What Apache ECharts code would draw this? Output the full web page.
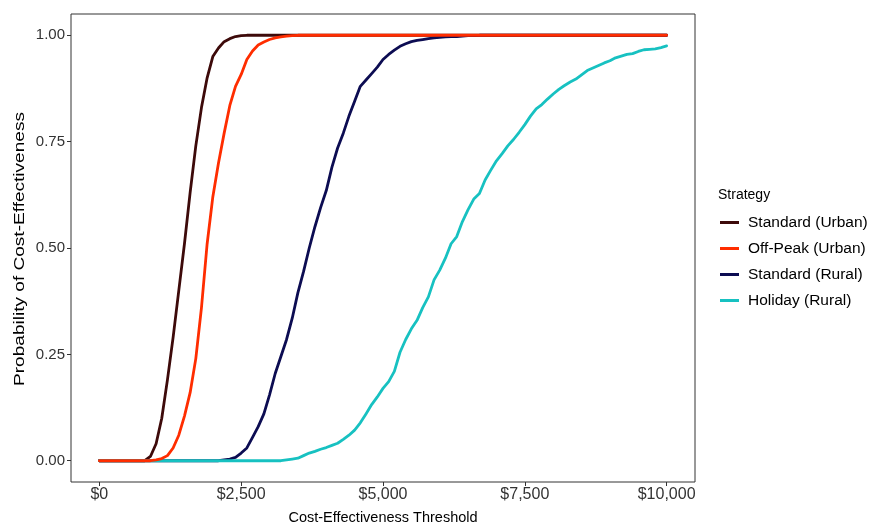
<!DOCTYPE html>
<html>
<head>
<meta charset="utf-8">
<script src="https://cdn.jsdelivr.net/npm/echarts@6/dist/echarts.min.js"></script>
<style>
  html, body { margin: 0; padding: 0; background: #fff; }
  #chart { width: 870px; height: 525px; }
</style>
</head>
<body>
<div id="chart"></div>
<script>
// Willingness-to-pay thresholds (USD), evaluated every $100 from $0 to $10,000
const thresholds = Array.from({ length: 101 }, (_, i) => i * 100);

// Probability that each strategy is cost-effective at each threshold
const standardUrban = [
  0, 0, 0, 0, 0, 0, 0, 0, 0, 0.01,
  0.04, 0.10, 0.19, 0.29, 0.40, 0.51, 0.63, 0.74, 0.83, 0.90,
  0.95, 0.97, 0.985, 0.992, 0.997, 0.999, 1, 1, 1, 1,
  1, 1, 1, 1, 1, 1, 1, 1, 1, 1,
  1, 1, 1, 1, 1, 1, 1, 1, 1, 1,
  1, 1, 1, 1, 1, 1, 1, 1, 1, 1,
  1, 1, 1, 1, 1, 1, 1, 1, 1, 1,
  1, 1, 1, 1, 1, 1, 1, 1, 1, 1,
  1, 1, 1, 1, 1, 1, 1, 1, 1, 1,
  1, 1, 1, 1, 1, 1, 1, 1, 1, 1,
  1
];
const offPeakUrban = [
  0, 0, 0, 0, 0, 0, 0, 0, 0, 0,
  0.002, 0.005, 0.012, 0.03, 0.06, 0.105, 0.16, 0.24, 0.36, 0.51,
  0.62, 0.70, 0.77, 0.835, 0.88, 0.908, 0.943, 0.963, 0.977, 0.984,
  0.99, 0.994, 0.996, 0.998, 0.999, 1, 1, 1, 1, 1,
  1, 1, 1, 1, 1, 1, 1, 1, 1, 1,
  1, 1, 1, 1, 1, 1, 1, 1, 1, 1,
  1, 1, 1, 1, 1, 1, 1, 1, 1, 1,
  1, 1, 1, 1, 1, 1, 1, 1, 1, 1,
  1, 1, 1, 1, 1, 1, 1, 1, 1, 1,
  1, 1, 1, 1, 1, 1, 1, 1, 1, 1,
  1
];
const standardRural = [
  0, 0, 0, 0, 0, 0, 0, 0, 0, 0,
  0, 0, 0, 0, 0, 0, 0, 0, 0, 0,
  0, 0, 0.002, 0.004, 0.008, 0.018, 0.03, 0.055, 0.08, 0.11,
  0.155, 0.205, 0.245, 0.285, 0.335, 0.395, 0.445, 0.50, 0.55, 0.595,
  0.635, 0.69, 0.735, 0.77, 0.81, 0.845, 0.88, 0.895, 0.91, 0.925,
  0.943, 0.955, 0.965, 0.974, 0.98, 0.985, 0.988, 0.99, 0.992, 0.994,
  0.995, 0.996, 0.997, 0.997, 0.998, 0.999, 0.999, 1, 1, 1,
  1, 1, 1, 1, 1, 1, 1, 1, 1, 1,
  1, 1, 1, 1, 1, 1, 1, 1, 1, 1,
  1, 1, 1, 1, 1, 1, 1, 1, 1, 1,
  1
];
const holidayRural = [
  0, 0, 0, 0, 0, 0, 0, 0, 0, 0,
  0, 0, 0, 0, 0, 0, 0, 0, 0, 0,
  0, 0, 0, 0, 0, 0, 0, 0, 0, 0,
  0, 0, 0, 0.002, 0.004, 0.006, 0.012, 0.018, 0.022, 0.027,
  0.031, 0.036, 0.041, 0.05, 0.06, 0.072, 0.089, 0.11, 0.132, 0.15,
  0.17, 0.186, 0.21, 0.255, 0.285, 0.31, 0.33, 0.36, 0.385, 0.425,
  0.448, 0.476, 0.51, 0.527, 0.562, 0.59, 0.615, 0.628, 0.66, 0.683,
  0.705, 0.722, 0.74, 0.755, 0.772, 0.79, 0.81, 0.827, 0.837, 0.85,
  0.862, 0.873, 0.882, 0.89, 0.897, 0.907, 0.917, 0.923, 0.929, 0.935,
  0.94, 0.947, 0.951, 0.955, 0.957, 0.962, 0.966, 0.967, 0.968, 0.971,
  0.975
];

const strategyNames = ['Standard (Urban)', 'Off-Peak (Urban)', 'Standard (Rural)', 'Holiday (Rural)'];
const strategyValues = [standardUrban, offPeakUrban, standardRural, holidayRural];
const strategyColors = ['#3d0a0a', '#ff2d00', '#0c0c52', '#17c1c1'];
const strategyZ = [2, 5, 3, 4];

const xTicks = [0, 2500, 5000, 7500, 10000];
const yTicks = [0, 0.25, 0.5, 0.75, 1];

const FONT = 'Liberation Sans, Arial, sans-serif';

const chart = echarts.init(document.getElementById('chart'), null, { renderer: 'canvas' });

const series = strategyNames.map((name, k) => ({
  name,
  type: 'line',
  z: strategyZ[k],
  showSymbol: false,
  symbol: 'none',
  data: thresholds.map((t, i) => [t, strategyValues[k][i]]),
  lineStyle: { color: strategyColors[k], width: 2.8, join: 'round', cap: 'round' },
  itemStyle: { color: strategyColors[k] },
  emphasis: { disabled: true },
  animation: false
}));

chart.setOption({
  animation: false,
  backgroundColor: '#ffffff',
  textStyle: { fontFamily: FONT },
  grid: {
    left: 71, right: 175, top: 14, bottom: 43,
    outerBoundsMode: 'none',
    containLabel: false,
    show: true, borderColor: '#333333', borderWidth: 1, backgroundColor: 'transparent'
  },
  title: {
    text: 'Strategy',
    left: 713, top: 183,
    textStyle: { fontFamily: FONT, fontSize: 14, fontWeight: 'normal', color: '#000' }
  },
  legend: {
    data: strategyNames,
    orient: 'vertical',
    left: 715, top: 208.5,
    icon: 'rect',
    itemWidth: 19, itemHeight: 3,
    itemGap: 8,
    selectedMode: false,
    textStyle: { fontFamily: FONT, fontSize: 15.5, color: '#000', padding: [0, 0, 0, 4], lineHeight: 18 }
  },
  // y-axis title, set as a rotated text stretched along its reading direction
  graphic: [{
    type: 'text',
    x: 20, y: 249,
    rotation: Math.PI / 2,
    scaleX: 1.27,
    silent: true,
    style: {
      text: 'Probability of Cost-Effectiveness',
      font: '15px ' + FONT,
      fill: '#000',
      align: 'center',
      verticalAlign: 'middle'
    }
  }],
  xAxis: {
    type: 'value',
    min: -500, max: 10500,
    name: 'Cost-Effectiveness Threshold',
    nameLocation: 'middle',
    nameGap: 28,
    nameTextStyle: { fontFamily: FONT, fontSize: 14.5, color: '#000' },
    axisLine: { show: false, onZero: false },
    splitLine: { show: false },
    axisTick: {
      show: true, length: 4, inside: false,
      customValues: xTicks,
      lineStyle: { color: '#333', width: 1 }
    },
    axisLabel: {
      customValues: xTicks,
      margin: 5,
      fontFamily: FONT, fontSize: 16, color: '#333',
      formatter: v => '$' + Number(v).toLocaleString('en-US')
    }
  },
  yAxis: {
    type: 'value',
    min: -0.05, max: 1.05,
    axisLine: { show: false, onZero: false },
    splitLine: { show: false },
    axisTick: {
      show: true, length: 4, inside: false,
      customValues: yTicks,
      lineStyle: { color: '#333', width: 1 }
    },
    axisLabel: {
      customValues: yTicks,
      margin: 6,
      fontFamily: FONT, fontSize: 15, color: '#333',
      formatter: v => Number(v).toFixed(2)
    }
  },
  series
});
</script>
</body>
</html>
